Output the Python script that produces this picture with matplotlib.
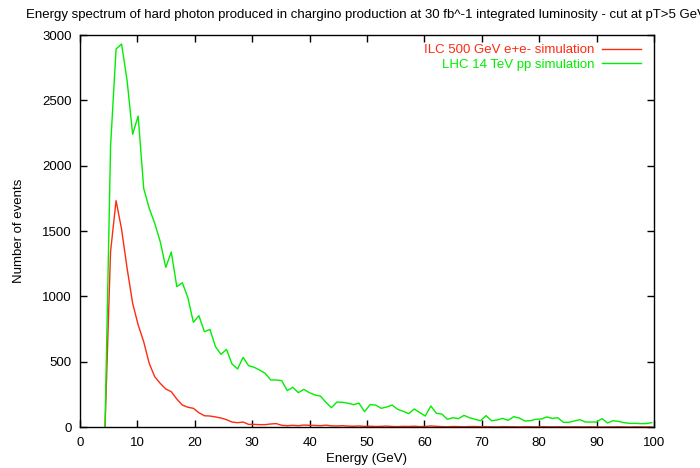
import numpy as np
import matplotlib
matplotlib.use("Agg")
import matplotlib.pyplot as plt

plt.rcParams["font.family"] = ["Liberation Sans", "DejaVu Sans"]

# photon energy grid (GeV), 100 histogram points
energy = np.linspace(4.36, 99.6, 100)

ilc_counts = [0, 1342, 1732, 1513, 1214, 947, 781, 653, 487, 385,
              334, 291, 270, 214, 168, 151, 143, 109, 86, 84,
              77, 69, 56, 38, 33, 38, 20, 20, 18, 18,
              23, 26, 13, 10, 13, 10, 15, 13, 12, 10,
              14, 9, 8, 10, 7, 6, 8, 5, 6, 4,
              5, 7, 4, 3, 5, 4, 6, 3, 4, 8,
              5, 3, 2, 4, 3, 2, 3, 4, 2, 3,
              2, 1, 3, 2, 2, 1, 3, 2, 1, 2,
              2, 1, 2, 1, 1, 2, 1, 1, 2, 1,
              0, 1, 1, 2, 1, 0, 1, 1, 0, 1]

lhc_counts = [0, 2145, 2893, 2931, 2650, 2240, 2380, 1827, 1674, 1559,
              1418, 1222, 1339, 1074, 1104, 990, 801, 852, 729, 747,
              615, 556, 594, 482, 444, 533, 469, 457, 436, 411,
              360, 360, 355, 278, 304, 263, 288, 263, 245, 237,
              189, 148, 191, 189, 182, 171, 182, 117, 171, 168,
              143, 153, 168, 135, 120, 102, 138, 110, 84, 161,
              105, 99, 59, 71, 64, 89, 71, 59, 48, 87,
              48, 54, 66, 51, 79, 69, 46, 48, 59, 61,
              77, 66, 71, 36, 36, 46, 56, 38, 38, 38,
              64, 31, 48, 43, 33, 28, 28, 26, 26, 33]

title = ("Energy spectrum of hard photon produced in chargino production "
         "at 30 fb^-1 integrated luminosity - cut at pT>5 GeV")


def main():
    fig = plt.figure(figsize=(7.0, 4.68), dpi=100)
    ax = fig.add_axes([80 / 700, 41 / 468, 574 / 700, 392 / 468])

    ax.plot(energy, ilc_counts, color="#ff2a10", lw=1.0,
            label="ILC 500 GeV e+e- simulation")
    ax.plot(energy, lhc_counts, color="#00ee00", lw=1.0,
            label="LHC 14 TeV pp simulation")

    ax.set_xlim(0, 100)
    ax.set_ylim(0, 3000)
    ax.set_xticks(np.arange(0, 101, 10))
    ax.set_yticks(np.arange(0, 3001, 500))
    ax.tick_params(direction="in", top=True, right=True, length=5,
                   width=1, labelsize=9.5, pad=6)
    ax.tick_params(axis="x", pad=7)
    for s in ax.spines.values():
        s.set_linewidth(1.0)

    ax.set_xlabel("Energy (GeV)", fontsize=9.5, labelpad=3)
    ax.set_ylabel("Number of events", fontsize=9.5, labelpad=12)
    fig.text(0.523, 1 - 15 / 468, title, fontsize=9.5,
             ha="center", va="center")

    leg = ax.legend(loc="upper right", frameon=False, fontsize=9.5,
                    markerfirst=False, labelcolor="linecolor",
                    handlelength=2.9, handletextpad=0.6,
                    labelspacing=0.15, borderaxespad=0.3,
                    bbox_to_anchor=(0.993, 1.0))
    for col in leg._legend_handle_box.get_children():
        col.align = "right"

    fig.savefig("out.png", dpi=100)


if __name__ == "__main__":
    main()
